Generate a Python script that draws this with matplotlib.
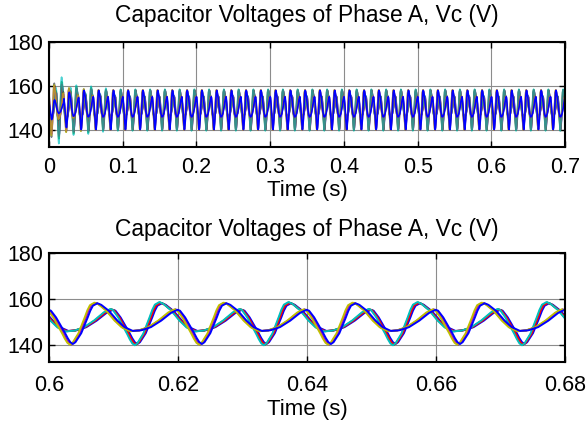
import numpy as np
import matplotlib.pyplot as plt

plt.rcParams['font.family'] = ['Liberation Sans', 'DejaVu Sans']

# One period (20 ms) of an arm's capacitor voltage
period_ms = np.array([0.0, 0.8, 1.6, 2.2, 2.6, 3.0, 3.4, 3.8, 4.2, 4.7, 5.2, 5.7, 6.1,
                      6.5, 7.2, 7.8, 9.0, 10.3, 11.4, 12.7, 14.0, 15.5, 17.1, 18.6, 19.6])
period_v = np.array([155.0, 152.0, 148.0, 145.0, 142.8, 141.0, 140.2, 141.0, 142.8, 145.0,
                     148.5, 152.0, 155.0, 157.2, 158.3, 157.6, 154.9, 150.6, 147.7, 146.0,
                     146.3, 147.7, 150.6, 154.0, 155.4])
v_center = 149.5
n_cycles = 35  # 0 .. 0.7 s at 50 Hz

# submodules in MATLAB colour order; first four in one arm, the rest in the other
line_colors = [(0, 0, 1), (0, 0.5, 0), (1, 0, 0), (0, 0.75, 0.75),
               (0.25, 0.25, 0.25), (0.75, 0, 0.75), (0.75, 0.75, 0), (0, 0, 1)]
line_phase_ms = [10, 10, 10, 10, 0, 0, 0, 0]
line_shift_ms = [0.3, 0.0, 0.1, -0.1, 0.0, 0.0, -0.15, 0.3]
line_gain = [0.98, 1.02, 1.0, 1.04, 1.0, 1.0, 1.01, 0.98]
# start-up swing for the first cycles
startup_gain = [[1.3, 1.1, 1.05, 1.0],
                [1.4, 1.15, 1.1, 1.0],
                [1.3, 1.1, 1.05, 1.0],
                [1.6, 1.2, 1.15, 1.05],
                [1.35, 1.1, 1.05, 1.0],
                [1.2, 1.05, 1.0, 1.0],
                [1.25, 1.1, 1.05, 1.0],
                [0.5, 0.9, 1.0, 1.0]]


def build_series(i):
    t_all, v_all = [], []
    for k in range(-1, n_cycles + 1):
        sg = startup_gain[i][min(max(k, 0), 3)] if k < 4 else 1.0
        t_all.append((k * 20 + line_phase_ms[i] + line_shift_ms[i] + period_ms) / 1000)
        v_all.append(v_center + line_gain[i] * sg * (period_v - v_center))
    t = np.concatenate(t_all)
    v = np.concatenate(v_all)
    keep = (t >= 0) & (t <= 0.7)
    return t[keep], v[keep]


fig = plt.figure(figsize=(5.88, 4.26), dpi=100)
ax1 = fig.add_axes([0.0833, 0.655, 0.878, 0.246])
ax2 = fig.add_axes([0.0833, 0.150, 0.878, 0.256])

n = len(line_colors)
for i, c in enumerate(line_colors):
    t, v = build_series(i)
    ax1.plot(t, v, color=c, lw=1.2, alpha=1.0 if i == n - 1 else 0.7)
    ax2.plot(t, v, color=c, lw=1.4)

title = 'Capacitor Voltages of Phase A, Vc (V)'
for ax, xl, xt, tpad, ttl in [
        (ax1, (0, 0.7), np.arange(0, 0.71, 0.1), 7, 14.5),
        (ax2, (0.6, 0.68), np.arange(0.6, 0.681, 0.02), 9.5, 12.5)]:
    ax.set_xlim(*xl)
    ax.set_ylim(132.5, 180)
    ax.set_xticks(xt)
    ax.set_xticklabels([f'{x:g}' for x in np.round(xt, 2)])
    ax.set_yticks([140, 160, 180])
    ax.grid(True, color='0.55', lw=0.8)
    ax.tick_params(direction='in', top=True, right=True, length=4, width=1,
                   labelsize=15.5)
    ax.tick_params(axis='x', pad=tpad)
    ax.tick_params(axis='y', pad=4.3)
    for s in ax.spines.values():
        s.set_linewidth(1.5)
    ax.set_xlabel('Time (s)', fontsize=16, labelpad=2)
    ax.set_title(title, fontsize=16.4, pad=ttl)

plt.savefig('out.png', dpi=100)
